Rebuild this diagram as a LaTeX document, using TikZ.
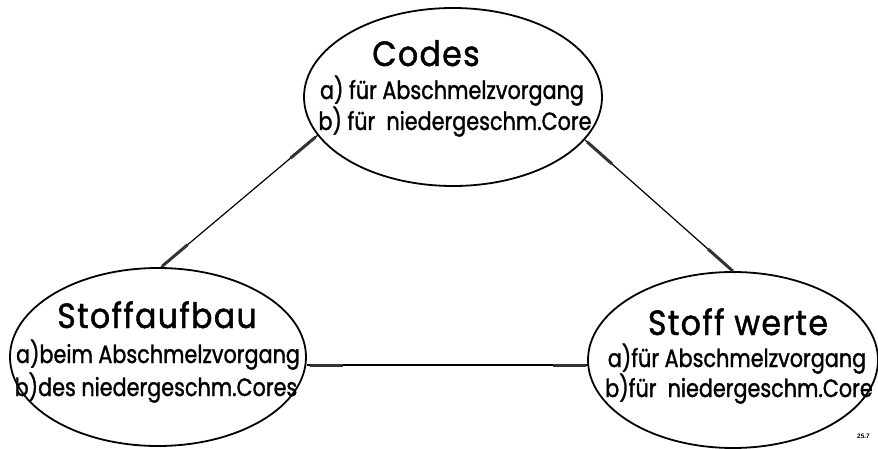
\documentclass[tikz,border=0pt]{standalone}
\usepackage{fontspec}
\setmainfont{Liberation Sans}
\newfontfamily\letterfont[FakeStretch=0.83,FakeBold=1.3]{Poppins}
\newfontfamily\titlefont[FakeStretch=0.9,FakeBold=1.3,LetterSpace=4]{Poppins}
\usetikzlibrary{shapes.geometric,calc}
\begin{document}
\begin{tikzpicture}[x=1pt,y=-1pt,
  bubble/.style={draw,ellipse,line width=1.8pt,inner sep=0pt},
  headline/.style={anchor=base,inner sep=0pt,font=\titlefont\fontsize{35}{35}\selectfont},
  itemline/.style={anchor=base,inner sep=0pt,font=\letterfont\fontsize{25}{25}\selectfont},
  link/.style={line width=1.2pt},
  linkmark/.style={line width=3pt,black!80}]
\useasboundingbox (0,0) rectangle (878,449);

% the three topic ellipses
\node[bubble,minimum width=298pt,minimum height=178pt] (codes) at (453,97) {};
\node[bubble,minimum width=296pt,minimum height=178pt] (aufbau) at (158,357) {};
\node[bubble,minimum width=290pt,minimum height=176pt] (werte) at (733,360) {};

% texts inside the ellipses
\node[headline] (codesT) at (426,66) {Codes};
\node[itemline] (codesA) at (452,99) {a) für Abschmelzvorgang};
\node[itemline] (codesB) at (455,130) {b) für \ niedergeschm.Core};

\node[headline] (aufbauT) at (157,328) {Stoffaufbau};
\node[itemline] (aufbauA) at (158,363) {a)beim Abschmelzvorgang};
\node[itemline] (aufbauB) at (156,396) {b)des niedergeschm.Cores};

\node[headline] (werteT) at (738,335) {Stoff werte};
\node[itemline] (werteA) at (737,367) {a)für Abschmelzvorgang};
\node[itemline] (werteB) at (739,397) {b)für \ niedergeschm.Core};

% connector end points on the ellipse outlines
\coordinate (cL) at (318,135);
\coordinate (aT) at (160,268);
\coordinate (cR) at (585,140);
\coordinate (wT) at (735,273);
\coordinate (aR) at (307,365);
\coordinate (wL) at (589,365);

% connectors with their darker end marks
\foreach \p/\q in {cL/aT, cR/wT, aR/wL}{
  \draw[link] (\p) -- (\q);
  \draw[linkmark] ($(\p)!3pt!(\q)$) -- ($(\p)!36pt!(\q)$);
  \draw[linkmark] ($(\q)!3pt!(\p)$) -- ($(\q)!36pt!(\p)$);
}

\node[anchor=base west,inner sep=0pt,font=\bfseries\fontsize{6.5}{6.5}\selectfont] (tag) at (857,438) {25.7};
\end{tikzpicture}
\end{document}
